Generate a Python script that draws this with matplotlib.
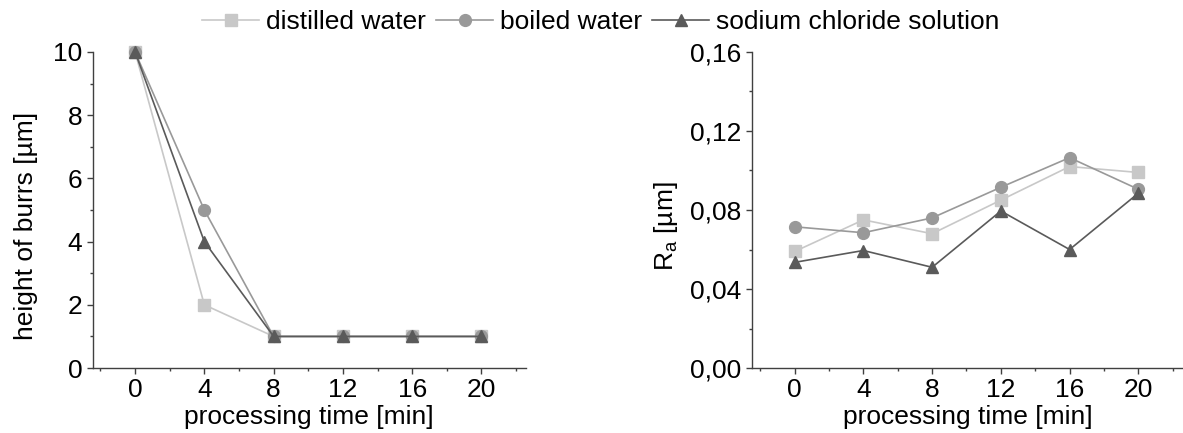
import matplotlib
matplotlib.use('agg')
import matplotlib.pyplot as plt
from matplotlib.ticker import MultipleLocator, FuncFormatter

plt.rcParams['font.family'] = ['Liberation Sans', 'DejaVu Sans']
plt.rcParams['mathtext.fontset'] = 'custom'
plt.rcParams['mathtext.rm'] = 'Liberation Sans'
plt.rcParams['mathtext.it'] = 'Liberation Sans:italic'

# processing time [min]
time = [0, 4, 8, 12, 16, 20]
series = ['distilled water', 'boiled water', 'sodium chloride solution']

# height of burrs [um]
burrs_distilled = [10, 2, 1, 1, 1, 1]
burrs_boiled = [10, 5, 1, 1, 1, 1]
burrs_sodium = [10, 4, 1, 1, 1, 1]

# Ra [um]
ra_distilled = [0.059, 0.075, 0.068, 0.085, 0.102, 0.099]
ra_boiled = [0.0715, 0.0685, 0.076, 0.0915, 0.1065, 0.0905]
ra_sodium = [0.0535, 0.0595, 0.051, 0.0795, 0.060, 0.0885]

colors = ['#c8c8c8', '#999999', '#5a5a5a']
markers = ['s', 'o', '^']
sizes = [8, 8.5, 9]

fig = plt.figure(figsize=(11.83, 4.33), dpi=100)
ax1 = fig.add_axes([0.0783, 0.150, 0.366, 0.730])
ax2 = fig.add_axes([0.6354, 0.150, 0.3646, 0.730])

fs = 19

def style(ax):
    for s in ['top', 'right']:
        ax.spines[s].set_visible(False)
    for s in ['left', 'bottom']:
        ax.spines[s].set_color('#404040')
        ax.spines[s].set_linewidth(1.0)
    ax.tick_params(which='major', direction='out', length=4.3, width=1.0,
                   color='#404040', labelsize=fs, pad=3)
    ax.tick_params(which='minor', direction='out', length=2.2, width=1.0,
                   color='#404040')
    ax.xaxis.set_major_locator(MultipleLocator(4))
    ax.xaxis.set_minor_locator(MultipleLocator(2))
    ax.set_xlabel('processing time [min]', fontsize=fs, labelpad=2)

lines = []
for ys, c, m, ms in zip([burrs_distilled, burrs_boiled, burrs_sodium], colors, markers, sizes):
    ln, = ax1.plot(time, ys, color=c, marker=m, markersize=ms, linewidth=1.2, clip_on=False)
    lines.append(ln)
for ys, c, m, ms in zip([ra_distilled, ra_boiled, ra_sodium], colors, markers, sizes):
    ax2.plot(time, ys, color=c, marker=m, markersize=ms, linewidth=1.2, clip_on=False)

style(ax1)
ax1.set_xlim(-2.45, 22.55)
ax1.set_ylim(0, 10)
ax1.yaxis.set_major_locator(MultipleLocator(2))
ax1.yaxis.set_minor_locator(MultipleLocator(1))
ax1.set_ylabel('height of burrs [µm]', fontsize=fs, labelpad=11)
ax1.yaxis.label.set_y(0.45)

style(ax2)
ax2.set_xlim(-2.5, 22.6)
ax2.set_ylim(0, 0.16)
ax2.yaxis.set_major_locator(MultipleLocator(0.04))
ax2.yaxis.set_minor_locator(MultipleLocator(0.02))
ax2.yaxis.set_major_formatter(FuncFormatter(lambda v, p: f'{v:.2f}'.replace('.', ',')))
ax2.set_ylabel(r'R$_\mathrm{a}$ [µm]', fontsize=fs, labelpad=7)
ax2.yaxis.label.set_y(0.45)

fig.legend(lines, series, loc='center', bbox_to_anchor=(0.508, 0.949), ncol=3,
           frameon=False, fontsize=fs, handlelength=2.16, handletextpad=0.27,
           columnspacing=0.38, borderaxespad=0, borderpad=0)

fig.savefig('out.png', dpi=100)
